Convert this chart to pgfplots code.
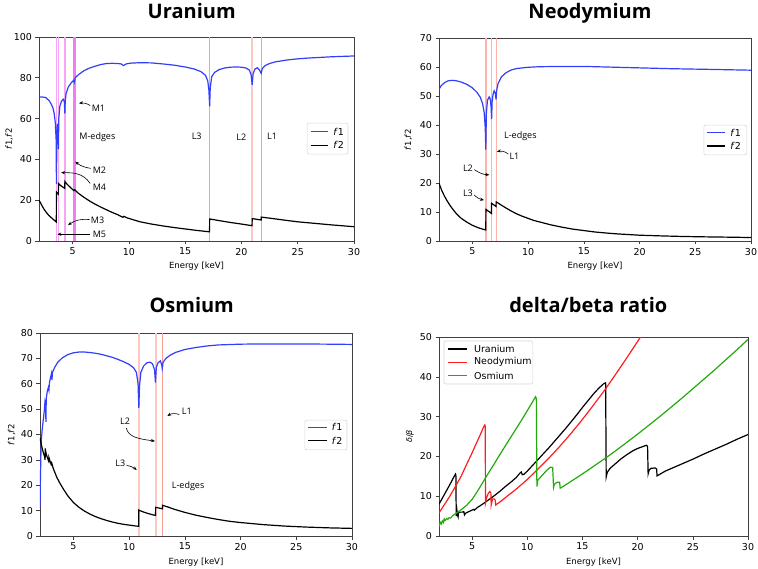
\documentclass[border=0pt]{standalone}
\usepackage{pgfplots}
\pgfplotsset{compat=1.18}
\usetikzlibrary{arrows.meta}
\usepackage{fontspec}
\setmainfont{DejaVu Sans}
\newfontfamily\titlefont{Open Sans}
\newfontfamily\annfont{Open Sans}
\definecolor{fblue}{RGB}{50,62,250}
\definecolor{dbgreen}{RGB}{34,170,10}
\definecolor{dbred}{RGB}{255,30,30}
\definecolor{edgeLs}{RGB}{252,160,150}
\definecolor{edgeLp}{RGB}{253,200,194}
\definecolor{edgeLm}{RGB}{252,179,170}
\definecolor{edgeMp}{RGB}{246,164,246}
\definecolor{edgeMs}{RGB}{242,124,242}
\definecolor{axisgray}{RGB}{64,64,64}
\definecolor{legframe}{RGB}{215,215,215}
\tikzset{
  ann/.style={font=\annfont\fontsize{9}{10}\selectfont, inner sep=0pt},
  arr/.style={-{Stealth[length=4pt,width=3.2pt]}, line width=0.6pt, draw=black},
  legtext/.style={font=\fontsize{9.5}{11}\selectfont, inner sep=0pt, anchor=west},
  legbox/.style={draw=legframe, fill=white, line width=0.6pt, rounded corners=2pt},
}
\pgfplotsset{
  panel/.style={
    scale only axis,
    xmin=2, xmax=30,
    xtick={5,10,15,20,25,30},
    tick align=outside, tick pos=left,
    major tick length=3.5pt,
    every tick/.style={draw=axisgray, line width=0.6pt},
    axis line style={draw=axisgray, line width=0.8pt},
    tick label style={font=\fontsize{9.5}{10}\selectfont},
    xlabel={Energy [keV]},
    xlabel style={font=\fontsize{8.5}{9}\selectfont, at={(axis description cs:0.5,0)}, anchor=base, yshift=-28pt},
    /pgf/number format/assume math mode=true,
    clip=true,
  },
}
\begin{document}
\begin{tikzpicture}
\path[use as bounding box] (0pt,0pt) rectangle (758pt,-569pt);
% titles
\node[anchor=base, font=\titlefont\bfseries\fontsize{20}{22}\selectfont] at (191.7pt,-18.3pt) {Uranium};
\node[anchor=base, font=\titlefont\bfseries\fontsize{20}{22}\selectfont] at (590pt,-18.3pt) {Neodymium};
\node[anchor=base, font=\titlefont\bfseries\fontsize{20}{22}\selectfont] at (191.7pt,-312.5pt) {Osmium};
\node[anchor=base, font=\titlefont\bfseries\fontsize{20}{22}\selectfont] at (588.3pt,-313pt) {delta/beta ratio};

% ---------------- Uranium ----------------
\begin{axis}[panel, at={(39pt,-241pt)}, anchor=south west, width=315pt, height=204pt,
  ymin=0, ymax=100, ytick={0,20,40,60,80,100},
  ylabel={\textit{f}1,\textit{f}2},
  ylabel style={font=\fontsize{8.5}{9}\selectfont, at={(axis description cs:-0.095,0.5)}, anchor=center}]
\addplot[forget plot, draw=edgeMp, line width=1.6pt] coordinates {(3.55,0) (3.55,100)};
\addplot[forget plot, draw=edgeMp, line width=1.6pt] coordinates {(3.73,0) (3.73,100)};
\addplot[forget plot, draw=edgeMp, line width=1.6pt] coordinates {(4.30,0) (4.30,100)};
\addplot[forget plot, draw=edgeMs, line width=1.6pt] coordinates {(5.10,0) (5.10,100)};
\addplot[forget plot, draw=edgeMs, line width=1.6pt] coordinates {(5.20,0) (5.20,100)};
\addplot[forget plot, draw=edgeLs, line width=0.9pt] coordinates {(17.17,0) (17.17,100)};
\addplot[forget plot, draw=edgeLp, line width=2.2pt] coordinates {(20.95,0) (20.95,100)};
\addplot[forget plot, draw=edgeLs, line width=0.9pt] coordinates {(21.76,0) (21.76,100)};
\addplot[draw=fblue, line width=1.2pt] coordinates {(2.0,70.5)(2.3,70.6)(2.6,70.3)(2.9,68.8)(3.1,67.0)(3.25,65.0)(3.35,62.5)(3.45,58.0)(3.52,50.0)(3.55,28.0)(3.58,45.0)(3.62,56.0)(3.66,57.5)(3.70,52.0)(3.73,45.0)(3.76,60.0)(3.85,66.0)(4.0,68.5)(4.15,69.5)(4.25,68.5)(4.30,62.5)(4.33,68.0)(4.4,72.0)(4.6,75.5)(4.9,77.8)(5.08,78.8)(5.14,77.8)(5.22,80.0)(5.5,81.5)(6.0,83.5)(6.5,84.8)(7.0,85.7)(7.5,86.5)(8.0,87.0)(8.5,87.1)(9.0,87.0)(9.3,86.8)(9.5,86.0)(9.6,86.3)(9.8,86.9)(10.2,87.2)(11.0,87.4)(12.0,87.3)(13.0,86.8)(14.0,86.2)(15.0,85.3)(15.8,84.3)(16.4,83.0)(16.8,81.2)(17.0,78.5)(17.1,74.0)(17.17,66.0)(17.22,75.0)(17.35,80.5)(17.6,82.6)(18.0,84.0)(18.5,84.8)(19.0,85.2)(19.5,85.3)(20.0,85.2)(20.4,84.8)(20.7,83.8)(20.85,81.5)(20.95,76.5)(21.03,82.0)(21.2,84.3)(21.4,84.9)(21.6,83.8)(21.75,82.2)(21.85,84.5)(22.1,86.0)(22.5,87.0)(23.0,87.8)(24.0,88.7)(25.0,89.3)(26.0,89.7)(27.0,90.0)(28.0,90.3)(29.0,90.5)(30.0,90.7)};
\addplot[draw=black, line width=1.2pt] coordinates {(2.0,20.1)(2.2,18.0)(2.4,16.0)(2.6,14.4)(2.8,13.0)(3.0,11.9)(3.2,10.9)(3.4,10.0)(3.54,9.3)(3.55,24.0)(3.72,23.0)(3.73,28.2)(3.9,27.3)(4.1,26.5)(4.29,25.8)(4.30,29.2)(4.5,27.8)(4.8,26.2)(5.1,24.7)(5.18,25.1)(5.5,23.4)(6.0,21.4)(6.5,19.6)(7.0,18.0)(7.5,16.6)(8.0,15.3)(8.5,14.0)(9.0,12.9)(9.45,11.6)(9.55,12.1)(9.8,11.4)(10.5,10.2)(11.0,9.4)(12.0,8.3)(13.0,7.4)(14.0,6.6)(15.0,5.9)(16.0,5.2)(17.16,4.5)(17.17,10.8)(17.5,10.5)(18.0,10.0)(19.0,9.1)(20.0,8.3)(20.94,7.5)(20.95,11.0)(21.5,10.5)(21.75,10.3)(21.76,11.7)(22.5,11.2)(24.0,10.1)(25.0,9.4)(26.0,8.9)(28.0,7.9)(30.0,7.0)};
\node[ann, anchor=west] at (axis cs:6.68,65.2) {M1};
\draw[arr] (axis cs:6.55,66.4) to[bend right=20] (axis cs:5.56,67.5);
\node[ann, anchor=west] at (axis cs:5.58,51.1) {M-edges};
\node[ann, anchor=west] at (axis cs:6.77,34.5) {M2};
\draw[arr] (axis cs:6.6,35.6) to[bend left=15] (axis cs:5.22,38.9);
\node[ann, anchor=west] at (axis cs:6.77,26.3) {M4};
\draw[arr] (axis cs:6.55,28.2) .. controls (axis cs:5.9,33.5) and (axis cs:5.0,33.5) .. (axis cs:3.96,33.5);
\node[ann, anchor=west] at (axis cs:6.6,10.3) {M3};
\draw[arr] (axis cs:6.5,10.5) to[bend right=20] (axis cs:4.58,7.8);
\node[ann, anchor=west] at (axis cs:6.77,3.3) {M5};
\draw[arr] (axis cs:6.5,3.3) -- (axis cs:3.63,3.3);
\node[ann] at (axis cs:16.02,51.1) {L3};
\node[ann] at (axis cs:19.98,51.1) {L2};
\node[ann] at (axis cs:22.71,51.1) {L1};
% legend
\draw[legbox] (axis description cs:0.851,0.426) rectangle (axis description cs:0.981,0.578);
\draw[draw=fblue, line width=1.2pt] (axis description cs:0.862,0.535) -- (axis description cs:0.919,0.535);
\draw[draw=black, line width=1.2pt] (axis description cs:0.862,0.469) -- (axis description cs:0.919,0.469);
\node[legtext] at (axis description cs:0.934,0.535) {\textit{f}1};
\node[legtext] at (axis description cs:0.934,0.469) {\textit{f}2};
\end{axis}

% ---------------- Neodymium ----------------
\begin{axis}[panel, at={(439pt,-241pt)}, anchor=south west, width=312pt, height=203pt,
  ymin=0, ymax=70, ytick={0,10,20,30,40,50,60,70},
  ylabel={\textit{f}1,\textit{f}2},
  ylabel style={font=\fontsize{8.5}{9}\selectfont, at={(axis description cs:-0.098,0.5)}, anchor=center}]
\addplot[forget plot, draw=edgeLm, line width=1.2pt] coordinates {(6.21,0) (6.21,70)};
\addplot[forget plot, draw=edgeLm, line width=1.2pt] coordinates {(6.72,0) (6.72,70)};
\addplot[forget plot, draw=edgeLm, line width=1.2pt] coordinates {(7.13,0) (7.13,70)};
\addplot[draw=fblue, line width=1.2pt] coordinates {(2.0,52.3)(2.2,53.6)(2.5,54.6)(2.8,55.2)(3.1,55.4)(3.5,55.3)(4.0,54.8)(4.5,54.0)(5.0,52.8)(5.4,51.3)(5.7,49.6)(5.9,47.5)(6.05,44.5)(6.15,39.0)(6.2,31.5)(6.25,44.0)(6.35,48.5)(6.5,49.7)(6.6,49.0)(6.68,46.0)(6.72,42.0)(6.77,48.0)(6.85,50.6)(6.95,51.8)(7.05,51.0)(7.12,48.8)(7.18,52.0)(7.3,54.3)(7.6,56.6)(8.0,58.0)(8.5,59.0)(9.0,59.5)(10.0,59.9)(11.0,60.1)(13.0,60.2)(15.0,60.2)(17.0,60.0)(20.0,59.7)(23.0,59.4)(26.0,59.2)(30.0,58.9)};
\addplot[draw=black, line width=1.2pt] coordinates {(2.0,19.9)(2.25,17.4)(2.5,15.4)(2.75,13.7)(3.0,12.2)(3.25,10.9)(3.5,9.7)(3.75,8.7)(4.0,7.8)(4.5,6.5)(5.0,5.4)(5.5,4.6)(6.0,4.0)(6.2,3.8)(6.21,10.9)(6.5,10.1)(6.71,9.5)(6.72,13.0)(6.9,12.5)(7.12,11.9)(7.13,13.5)(7.5,12.6)(8.0,11.4)(8.5,10.3)(9.0,9.3)(9.5,8.5)(10.0,7.8)(10.5,7.1)(11.0,6.6)(11.5,6.1)(12.0,5.6)(13.0,4.8)(14.0,4.1)(15.0,3.6)(16.0,3.1)(17.0,2.75)(18.0,2.45)(20.0,2.0)(22.0,1.75)(24.0,1.55)(26.0,1.42)(28.0,1.32)(30.0,1.2)};
\node[ann, anchor=west] at (axis cs:7.83,36.2) {L-edges};
\node[ann, anchor=west] at (axis cs:8.31,29.3) {L1};
\draw[arr] (axis cs:8.22,30.0) to[bend right=25] (axis cs:7.2,30.8);
\node[ann] at (axis cs:4.6,25.1) {L2};
\draw[arr] (axis cs:5.17,24.6) to[bend right=15] (axis cs:6.52,22.8);
\node[ann] at (axis cs:4.6,16.4) {L3};
\draw[arr] (axis cs:5.14,15.9) to[bend right=15] (axis cs:6.04,14.1);
% legend
\draw[legbox] (axis description cs:0.849,0.424) rectangle (axis description cs:0.987,0.571);
\draw[draw=fblue, line width=1.2pt] (axis description cs:0.860,0.533) -- (axis description cs:0.917,0.533);
\draw[draw=black, line width=1.2pt] (axis description cs:0.860,0.468) -- (axis description cs:0.917,0.468);
\node[legtext] at (axis description cs:0.933,0.533) {\textit{f}1};
\node[legtext] at (axis description cs:0.933,0.468) {\textit{f}2};
\end{axis}

% ---------------- Osmium ----------------
\begin{axis}[panel, at={(40pt,-536pt)}, anchor=south west, width=312pt, height=203pt,
  ymin=0, ymax=80, ytick={0,10,20,30,40,50,60,70,80},
  ylabel={\textit{f}1,\textit{f}2},
  ylabel style={font=\fontsize{8.5}{9}\selectfont, at={(axis description cs:-0.091,0.5)}, anchor=center}]
\addplot[forget plot, draw=edgeLp, line width=2pt] coordinates {(10.87,0) (10.87,80)};
\addplot[forget plot, draw=edgeLp, line width=2pt] coordinates {(12.38,0) (12.38,80)};
\addplot[forget plot, draw=edgeLs, line width=0.9pt] coordinates {(13.0,0) (13.0,80)};
\addplot[draw=fblue, line width=1.2pt] coordinates {(2.0,11.0)(2.03,20.0)(2.07,30.0)(2.12,38.0)(2.2,42.0)(2.3,46.0)(2.4,50.0)(2.45,53.0)(2.5,52.0)(2.53,45.0)(2.56,54.0)(2.65,57.0)(2.75,58.5)(2.8,57.5)(2.85,60.5)(2.95,62.5)(3.03,64.0)(3.07,61.5)(3.12,64.5)(3.3,66.3)(3.6,68.5)(4.0,70.2)(4.5,71.5)(5.0,72.2)(5.5,72.5)(6.0,72.5)(6.5,72.3)(7.0,72.0)(7.5,71.6)(8.0,71.0)(8.5,70.4)(9.0,69.6)(9.5,68.7)(10.0,67.6)(10.4,66.3)(10.65,64.5)(10.8,60.0)(10.87,50.5)(10.93,59.0)(11.05,64.5)(11.3,67.0)(11.6,68.3)(11.9,68.5)(12.1,67.8)(12.28,65.5)(12.36,60.5)(12.44,66.5)(12.6,68.3)(12.8,69.0)(12.92,67.5)(12.97,66.0)(13.05,68.5)(13.3,70.0)(13.7,71.3)(14.2,72.4)(15.0,73.5)(16.0,74.3)(17.0,74.9)(18.0,75.3)(20.0,75.6)(22.0,75.7)(25.0,75.7)(28.0,75.6)(30.0,75.5)};
\addplot[draw=black, line width=1.2pt] coordinates {(2.0,38.8)(2.1,36.5)(2.2,34.5)(2.3,32.8)(2.4,31.5)(2.46,30.0)(2.47,34.5)(2.55,32.5)(2.65,31.0)(2.78,29.5)(2.80,31.0)(2.9,29.5)(3.0,28.2)(3.05,28.8)(3.2,26.5)(3.5,23.2)(3.8,20.7)(4.1,18.5)(4.5,15.8)(5.0,13.2)(5.5,11.3)(6.0,9.8)(6.5,8.6)(7.0,7.6)(7.5,6.8)(8.0,6.1)(8.5,5.5)(9.0,5.0)(9.5,4.6)(10.0,4.3)(10.5,4.0)(10.86,3.8)(10.87,10.2)(11.2,9.6)(11.6,9.0)(12.0,8.5)(12.37,8.1)(12.38,11.3)(12.7,11.0)(12.99,10.7)(13.0,12.1)(13.5,11.4)(14.0,10.6)(15.0,9.3)(16.0,8.2)(17.0,7.3)(18.0,6.5)(19.0,5.8)(20.0,5.3)(22.0,4.5)(24.0,3.9)(26.0,3.5)(28.0,3.2)(30.0,3.0)};
\node[ann, anchor=west] at (axis cs:14.72,49.0) {L1};
\draw[arr] (axis cs:14.5,47.9) to[bend right=25] (axis cs:13.43,47.3);
\node[ann] at (axis cs:9.63,45.4) {L2};
\draw[arr] (axis cs:9.75,42.6) .. controls (axis cs:9.9,38.8) and (axis cs:11.0,38.2) .. (axis cs:12.32,37.4);
\node[ann] at (axis cs:9.21,28.6) {L3};
\draw[arr] (axis cs:9.78,27.8) to[bend left=15] (axis cs:10.68,26.0);
\node[ann, anchor=west] at (axis cs:13.82,19.8) {L-edges};
% legend
\draw[legbox] (axis description cs:0.849,0.424) rectangle (axis description cs:0.984,0.571);
\draw[draw=fblue, line width=1.2pt] (axis description cs:0.860,0.536) -- (axis description cs:0.919,0.536);
\draw[draw=black, line width=1.2pt] (axis description cs:0.860,0.469) -- (axis description cs:0.919,0.469);
\node[legtext] at (axis description cs:0.935,0.536) {\textit{f}1};
\node[legtext] at (axis description cs:0.935,0.469) {\textit{f}2};
\end{axis}

% ---------------- delta/beta ----------------
\begin{axis}[panel, at={(439pt,-536pt)}, anchor=south west, width=309pt, height=199pt,
  ymin=0, ymax=50, ytick={0,10,20,30,40,50},
  ylabel={\textit{δ}/\textit{β}},
  ylabel style={font=\fontsize{8}{9}\selectfont, at={(axis description cs:-0.094,0.5)}, anchor=center}]
\addplot[draw=black, line width=1.2pt] coordinates {(2.0,8.0)(2.5,10.5)(3.0,13.0)(3.3,14.6)(3.5,15.6)(3.53,15.4)(3.56,5.0)(3.62,6.6)(3.68,5.2)(3.73,4.8)(3.76,5.8)(3.9,6.0)(4.1,6.0)(4.25,6.1)(4.31,5.3)(4.4,5.7)(4.6,6.0)(5.0,6.5)(5.15,6.7)(5.2,6.5)(5.5,7.2)(6.0,8.1)(6.5,9.1)(7.0,10.1)(7.5,11.2)(8.0,12.4)(8.5,13.5)(9.0,14.7)(9.3,15.7)(9.45,16.1)(9.55,15.4)(9.7,15.5)(10.0,16.3)(10.5,17.8)(11.0,19.3)(11.5,20.8)(12.0,22.3)(12.5,23.9)(13.0,25.5)(13.5,27.1)(14.0,28.8)(14.5,30.5)(15.0,32.3)(15.5,34.0)(16.0,35.7)(16.5,37.2)(16.9,38.2)(17.1,38.5)(17.15,14.8)(17.25,16.0)(17.5,17.0)(18.0,18.2)(18.5,19.4)(19.0,20.4)(19.5,21.3)(20.0,22.0)(20.5,22.5)(20.8,22.8)(20.9,22.5)(20.95,15.6)(21.05,16.6)(21.2,17.0)(21.6,17.1)(21.72,16.8)(21.76,15.1)(22.5,16.3)(23.0,16.9)(24.0,18.1)(25.0,19.3)(26.0,20.6)(27.0,21.8)(28.0,23.0)(29.0,24.3)(30.0,25.5)};
\addplot[draw=dbred, line width=1.2pt] coordinates {(2.0,5.8)(2.66,8.6)(3.0,10.1)(3.56,12.8)(4.0,15.0)(4.47,17.8)(5.0,20.9)(5.37,23.2)(5.7,25.2)(6.04,27.4)(6.15,27.9)(6.19,27.6)(6.21,8.3)(6.3,9.5)(6.45,10.6)(6.6,11.2)(6.7,10.8)(6.73,7.8)(6.85,9.3)(7.0,9.3)(7.1,9.0)(7.13,7.8)(7.5,8.5)(8.0,9.6)(9.0,11.8)(10.0,14.2)(11.0,16.9)(12.0,19.7)(13.0,22.7)(14.0,25.9)(15.0,29.3)(16.0,32.9)(17.0,36.6)(18.0,40.6)(19.0,44.7)(20.0,48.9)(20.6,51.5)};
\addplot[draw=dbgreen, line width=1.2pt] coordinates {(2.0,2.3)(2.1,3.5)(2.2,3.0)(2.3,3.8)(2.4,3.4)(2.47,4.3)(2.55,3.9)(2.7,4.4)(2.8,4.2)(2.9,4.6)(3.05,4.5)(3.2,5.0)(3.5,5.6)(4.0,6.6)(4.5,7.7)(5.0,9.2)(5.5,11.3)(6.0,13.6)(6.5,15.9)(7.0,18.1)(7.5,20.4)(8.0,22.6)(8.5,24.8)(9.0,27.0)(9.5,29.2)(10.0,31.5)(10.5,33.8)(10.75,35.0)(10.82,34.5)(10.87,12.4)(10.95,14.0)(11.2,14.8)(11.5,15.7)(11.8,16.6)(12.1,17.3)(12.3,17.2)(12.38,12.2)(12.45,13.0)(12.7,13.5)(12.93,13.5)(12.98,12.0)(13.5,12.9)(14.0,13.8)(15.0,15.6)(16.0,17.5)(17.0,19.4)(18.0,21.4)(19.0,23.5)(20.0,25.6)(21.0,27.8)(22.0,30.0)(23.0,32.3)(24.0,34.6)(25.0,37.0)(26.0,39.4)(27.0,41.8)(28.0,44.3)(29.0,46.8)(30.0,49.4)};
% legend
\draw[legbox] (axis description cs:0.016,0.764) rectangle (axis description cs:0.304,0.980);
\draw[draw=black, line width=1.2pt] (axis description cs:0.028,0.940) -- (axis description cs:0.092,0.940);
\draw[draw=dbred, line width=1.2pt] (axis description cs:0.028,0.873) -- (axis description cs:0.092,0.873);
\draw[draw=dbgreen, line width=1.2pt] (axis description cs:0.028,0.806) -- (axis description cs:0.092,0.806);
\node[legtext] at (axis description cs:0.113,0.940) {Uranium};
\node[legtext] at (axis description cs:0.113,0.873) {Neodymium};
\node[legtext] at (axis description cs:0.113,0.806) {Osmium};
\end{axis}
\end{tikzpicture}
\end{document}
